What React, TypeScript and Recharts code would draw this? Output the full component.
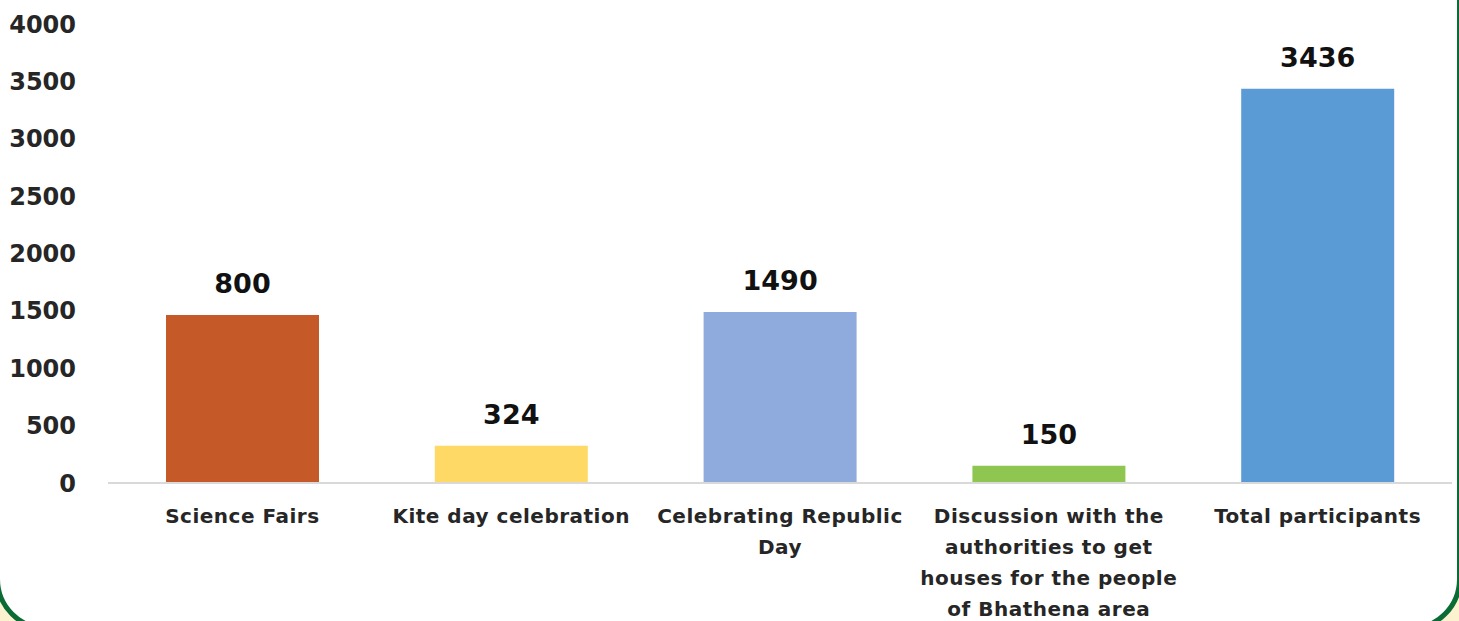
import { Bar, BarChart, Cell, LabelList, XAxis, YAxis } from "recharts";

const categories = [
  "Science Fairs",
  "Kite day celebration",
  "Celebrating Republic\nDay",
  "Discussion with the\nauthorities to get\nhouses for the people\nof Bhathena area",
  "Total participants",
];
// bar heights as drawn (the first bar is drawn taller than its label says)
const participants = [1465, 324, 1490, 150, 3436];
const labelTexts = ["800", "324", "1490", "150", "3436"];
const barColors = ["#c55a28", "#fed966", "#8faadc", "#8fc651", "#5b9bd5"];
const yTicks = [0, 500, 1000, 1500, 2000, 2500, 3000, 3500, 4000];

const data = categories.map((name, i) => ({ name, value: participants[i], label: labelTexts[i] }));

const FONT = "'DejaVu Sans', sans-serif";

function CategoryTick(props: any) {
  const { x, y, payload } = props;
  const lines = String(payload.value).split("\n");
  return (
    <text
      x={x}
      y={y + 32}
      textAnchor="middle"
      fill="#262626"
      fontFamily={FONT}
      fontSize={20}
      fontWeight={700}
      letterSpacing={0.5}
    >
      {lines.map((line, i) => (
        <tspan key={i} x={x} dy={i === 0 ? 0 : 31}>
          {line}
        </tspan>
      ))}
    </text>
  );
}

export default function App() {
  return (
    <div style={{ position: "fixed", left: 0, top: 0, width: 1459, height: 621, overflow: "hidden", background: "#fcf2cf" }}>
      <div
        style={{
          position: "absolute",
          left: -5,
          top: -100,
          width: 1459 + 8,
          height: 100 + 631,
          boxSizing: "border-box",
          border: "5px solid #0b6b35",
          borderRadius: 52,
          background: "#ffffff",
        }}
      />
      <div style={{ position: "absolute", left: 0, top: 0 }}>
        <BarChart width={1459} height={621} data={data} margin={{ top: 24, right: 7, left: 0, bottom: 0 }}>
          <XAxis
            dataKey="name"
            height={138}
            interval={0}
            tickLine={false}
            axisLine={{ stroke: "#d9d9d9", strokeWidth: 2 }}
            tick={<CategoryTick />}
          />
          <YAxis
            width={108}
            domain={[0, 4000]}
            ticks={yTicks}
            axisLine={false}
            tickLine={false}
            tickSize={0}
            tickMargin={32}
            tick={{ fill: "#262626", fontSize: 24, fontWeight: 700, fontFamily: FONT }}
          />
          <Bar dataKey="value" barSize={153} isAnimationActive={false}>
            {data.map((d, i) => (
              <Cell key={d.name} fill={barColors[i]} />
            ))}
            <LabelList
              dataKey="label"
              position="top"
              offset={22}
              fill="#111111"
              fontSize={27}
              fontWeight={700}
              fontFamily={FONT}
            />
          </Bar>
        </BarChart>
      </div>
    </div>
  );
}
